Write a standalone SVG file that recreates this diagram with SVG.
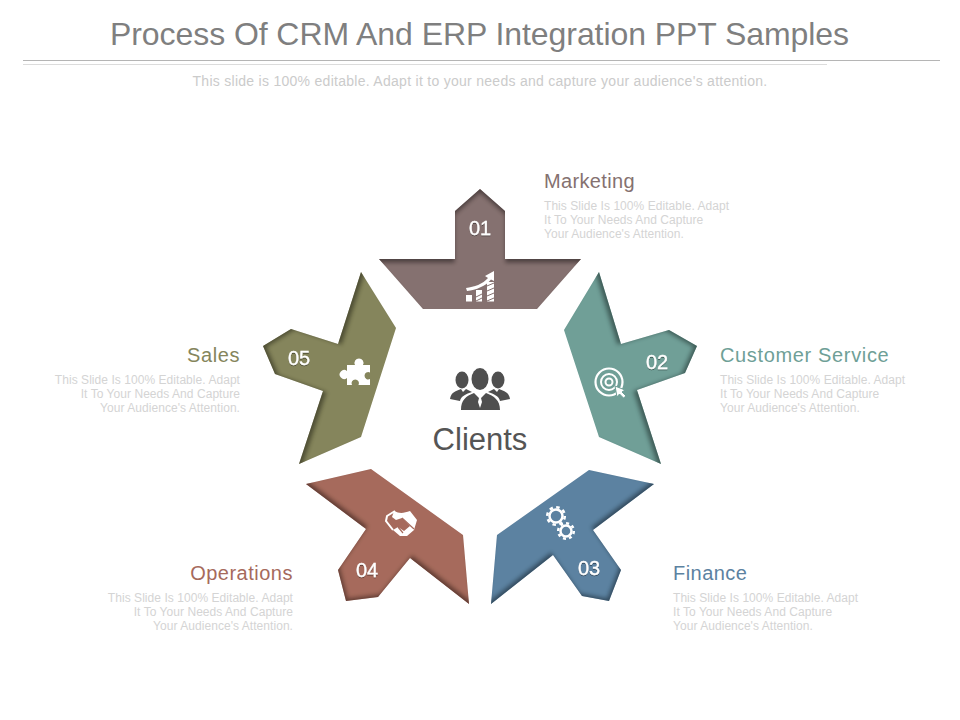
<svg xmlns="http://www.w3.org/2000/svg" width="960" height="720" viewBox="0 0 960 720">
<style>
text{font-family:"Liberation Sans",Arial,sans-serif}
.title{font-size:32px;fill:#7f7f7f;letter-spacing:-.07px}
.sub{font-size:14px;fill:#cbcbcb;letter-spacing:.28px}
.h{font-size:20px;letter-spacing:.4px}
.d{font-size:12px;fill:#d4d4d4;letter-spacing:.05px}
.r{text-anchor:end}
.n{font-size:20px;fill:#fff;text-anchor:middle;stroke:#fff;stroke-width:.3px}
.ic{fill:#fff}
.ol{fill:none;stroke:#fff}
</style>
<defs>
<filter id="t" x="-20%" y="-20%" width="140%" height="140%"><feDropShadow dx="0" dy="1" stdDeviation=".7" flood-color="#000" flood-opacity=".45"/></filter>
<filter id="s1" x="-10%" y="-10%" width="120%" height="120%"><feOffset in="SourceAlpha" dx="0" dy="4"/><feGaussianBlur stdDeviation="2.300"/><feComposite in="SourceAlpha" operator="out"/><feComponentTransfer result="i"><feFuncA type="linear" slope=".68"/></feComponentTransfer><feMerge><feMergeNode in="SourceGraphic"/><feMergeNode in="i"/></feMerge></filter>
<filter id="s2" x="-10%" y="-10%" width="120%" height="120%"><feOffset in="SourceAlpha" dx="-3.8" dy="1.2"/><feGaussianBlur stdDeviation="2.300"/><feComposite in="SourceAlpha" operator="out"/><feComponentTransfer result="i"><feFuncA type="linear" slope=".68"/></feComponentTransfer><feMerge><feMergeNode in="SourceGraphic"/><feMergeNode in="i"/></feMerge></filter>
<filter id="s3" x="-10%" y="-10%" width="120%" height="120%"><feOffset in="SourceAlpha" dx="-2.4" dy="-3.2"/><feGaussianBlur stdDeviation="2.300"/><feComposite in="SourceAlpha" operator="out"/><feComponentTransfer result="i"><feFuncA type="linear" slope=".68"/></feComponentTransfer><feMerge><feMergeNode in="SourceGraphic"/><feMergeNode in="i"/></feMerge></filter>
<filter id="s4" x="-10%" y="-10%" width="120%" height="120%"><feOffset in="SourceAlpha" dx="2.4" dy="-3.2"/><feGaussianBlur stdDeviation="2.300"/><feComposite in="SourceAlpha" operator="out"/><feComponentTransfer result="i"><feFuncA type="linear" slope=".68"/></feComponentTransfer><feMerge><feMergeNode in="SourceGraphic"/><feMergeNode in="i"/></feMerge></filter>
<filter id="s5" x="-10%" y="-10%" width="120%" height="120%"><feOffset in="SourceAlpha" dx="3.8" dy="1.2"/><feGaussianBlur stdDeviation="2.300"/><feComposite in="SourceAlpha" operator="out"/><feComponentTransfer result="i"><feFuncA type="linear" slope=".68"/></feComponentTransfer><feMerge><feMergeNode in="SourceGraphic"/><feMergeNode in="i"/></feMerge></filter>
</defs>
<rect width="960" height="720" fill="#fff"/>
<g id="header">
<text class="title" x="479.5" y="45" text-anchor="middle">Process Of CRM And ERP Integration PPT Samples</text>
<line x1="23" y1="60.5" x2="940" y2="60.5" stroke="#b5b5b5"/>
<line x1="23" y1="64.5" x2="827" y2="64.5" stroke="#dcdcdc"/>
<text class="sub" x="480" y="86" text-anchor="middle">This slide is 100% editable. Adapt it to your needs and capture your audience's attention.</text>
</g>
<g id="connectors"></g>
<g id="node-01">
<polygon points="480,189 505,211 505,259 581,259 537,309 423,309 379,259 455,259 455,211" fill="#857170" filter="url(#s1)"/>
<text class="n" x="480" y="235" filter="url(#t)">01</text>
<g class="ic"><rect x="466" y="295" width="6" height="6.500"/><rect x="476" y="290" width="6" height="11.500"/><rect x="487" y="282" width="7" height="19.500"/><path d="M466 288C474 287 483 284 488 278L485 276L494 271L494 281L491 279.500C486 286 476 290 467 291Z"/></g>
<path d="M476 297L482 294M476 301L482 298M487 286L494 283M487 291L494 288M487 296L494 293M487 301L494 298" stroke="#857170" stroke-width="1" fill="none"/>
<text class="h" x="544" y="188" fill="#857170" style="letter-spacing:.35px">Marketing</text>
<text class="d" x="544" y="210">This Slide Is 100% Editable. Adapt</text>
<text class="d" x="544" y="224">It To Your Needs And Capture</text>
<text class="d" x="544" y="238">Your Audience's Attention.</text>
</g>
<g id="node-02">
<polygon points="599,272 621,344 669,330 697,346 685,373 637,390 661,464 599,437 564,330" fill="#6f9f97" filter="url(#s2)"/>
<text class="n" x="657" y="369" filter="url(#t)">02</text>
<circle class="ol" cx="609" cy="382" r="13.500" stroke-width="2.200"/>
<circle class="ol" cx="609" cy="382" r="8" stroke-width="2"/>
<circle class="ol" cx="609" cy="382" r="3.500" stroke-width="2"/>
<path class="ic" d="M615 386L625 390L622 392L626 396L623.500 398L619.500 394L617 397Z" stroke="#6f9f97" stroke-width="1"/>
<text class="h" x="720" y="362" fill="#6f9f97" style="letter-spacing:.65px">Customer Service</text>
<text class="d" x="720" y="384">This Slide Is 100% Editable. Adapt</text>
<text class="d" x="720" y="398">It To Your Needs And Capture</text>
<text class="d" x="720" y="412">Your Audience's Attention.</text>
</g>
<g id="node-03">
<polygon points="654,484 593,530 621,570 609,601 582,596 553,555 491,604 497,535 589,470" fill="#5c82a1" filter="url(#s3)"/>
<text class="n" x="589" y="575" filter="url(#t)">03</text>
<circle class="ol" cx="556" cy="516" r="6.500" stroke-width="2.500"/>
<circle class="ol" cx="556" cy="516" r="8.800" stroke-width="2.500" stroke-dasharray="3.500 3.400"/>
<circle class="ol" cx="566" cy="531" r="5.500" stroke-width="2.500"/>
<circle class="ol" cx="566" cy="531" r="7.800" stroke-width="2.500" stroke-dasharray="3 3.100"/>
<text class="h" x="673" y="580" fill="#5c82a1" style="letter-spacing:.45px">Finance</text>
<text class="d" x="673" y="602">This Slide Is 100% Editable. Adapt</text>
<text class="d" x="673" y="616">It To Your Needs And Capture</text>
<text class="d" x="673" y="630">Your Audience's Attention.</text>
</g>
<g id="node-04">
<polygon points="306,484 371,469 463,535 469,604 410,558 378,597 346,601 338,570 366,529" fill="#a66a5c" filter="url(#s4)"/>
<text class="n" x="367" y="577" filter="url(#t)">04</text>
<path class="ol" stroke-width="2" d="M395 511L387 516L386 521L393 530"/>
<path class="ic" d="M394 511C400 514 404 513 410 511L417 520L414 530L407 536L400 536L393 530L398 527L404 531L410 526L402 518L396 520L392 517Z"/>
<path d="M402 518L414 529M398 527L403 533" stroke="#a66a5c" stroke-width="1.200" fill="none"/>
<text class="h r" x="293" y="580" fill="#a66a5c" style="letter-spacing:.5px">Operations</text>
<text class="d r" x="293" y="602">This Slide Is 100% Editable. Adapt</text>
<text class="d r" x="293" y="616">It To Your Needs And Capture</text>
<text class="d r" x="293" y="630">Your Audience's Attention.</text>
</g>
<g id="node-05">
<polygon points="361,272 396,328 361,437 299,464 323,391 275,374 263,346 291,329 338,344" fill="#85855c" filter="url(#s5)"/>
<text class="n" x="299" y="365" filter="url(#t)">05</text>
<path class="ic" d="M347 365H355A4.500 4.500 0 1 1 363 365H370V372.500A3.700 3.700 0 1 0 370 379V385H358.500A3.700 3.700 0 1 0 352 385H347V378A4.500 4.500 0 1 1 347 371Z"/>
<text class="h r" x="240" y="362" fill="#85855c" style="letter-spacing:.6px">Sales</text>
<text class="d r" x="240" y="384">This Slide Is 100% Editable. Adapt</text>
<text class="d r" x="240" y="398">It To Your Needs And Capture</text>
<text class="d r" x="240" y="412">Your Audience's Attention.</text>
</g>
<g id="node-center">
<g fill="#4f4f4f">
<ellipse cx="462" cy="380" rx="6.500" ry="8.500"/>
<ellipse cx="498" cy="380" rx="6.500" ry="8.500"/>
<path d="M450 399C451 392 456 391 461 389L463 392L466 389C468 390 470 391 472 392C466 394 461 396 460 401Z"/>
<path d="M510 399C509 392 504 391 499 389L497 392L494 389C492 390 490 391 488 392C494 394 499 396 500 401Z"/>
<ellipse cx="480" cy="379" rx="8.500" ry="11"/>
<path d="M461 410C461 400 466 396 474 393L479 398L478 402L480 408L482 402L481 398L486 393C494 396 500 400 500 410Z"/>
</g>
<text x="480" y="450" font-size="31" fill="#555" text-anchor="middle">Clients</text>
</g>
</svg>
